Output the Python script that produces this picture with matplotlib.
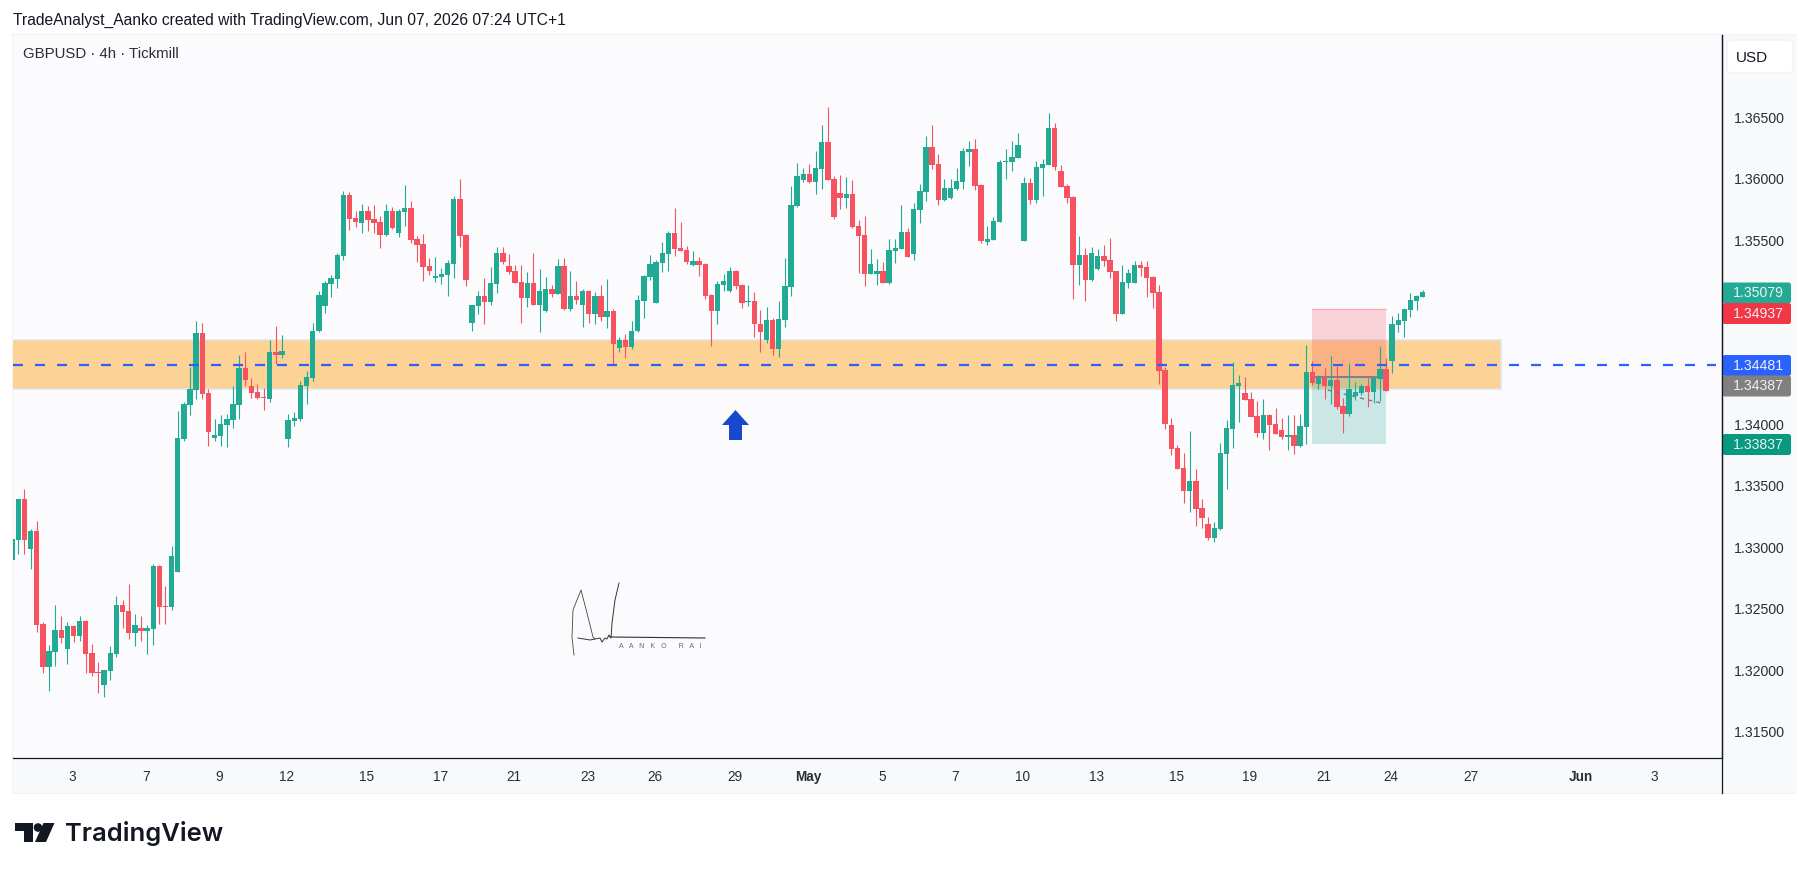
"""
GBPUSD 4h candles with the supply/demand band and a short position box
"""
import matplotlib
matplotlib.use("Agg")
import matplotlib.pyplot as plt
from matplotlib.collections import LineCollection
from matplotlib.patches import Circle, FancyBboxPatch, Polygon, Rectangle
import numpy as np

plt.rcParams['font.family'] = ['Liberation Sans', 'DejaVu Sans']

# prices in 0.00001 units, one entry per 4h bar
opens = [
    132893,133063,133395,132990,133136,132375,132026,132148,132326,132172,
    132358,132277,132399,132140,131986,131880,131994,132132,132528,132480,
    132302,132342,132318,132334,132844,132520,132512,132796,133881,134157,
    134278,134740,134254,133889,133905,133995,134035,134157,134456,134311,
    134262,134221,134205,134586,134562,133881,134027,134043,134311,134375,
    134756,134967,135145,135185,135372,135866,135679,135639,135736,135671,
    135647,135542,135736,135558,135728,135760,135509,135469,135291,135193,
    135202,135218,135307,135833,135542,134829,134967,135048,134999,135145,
    135396,135291,135250,135161,135031,135153,134975,134926,135104,135064,
    135291,134942,135048,134975,135088,134902,135048,134877,134926,134618,
    134683,134626,134756,135007,135202,134991,135315,135388,135558,135436,
    135420,135299,135331,135307,135056,134926,135137,135088,135250,135137,
    134999,135007,134821,134683,134853,134610,134853,135120,135777,135987,
    136036,135971,136076,136295,135995,135882,135841,135874,135615,135542,
    135226,135226,135250,135153,135412,135428,135566,135388,135744,135890,
    136255,136117,135825,135841,135914,135971,136214,136238,135947,135485,
    135501,135647,136133,136133,136165,135493,135963,135825,136084,136109,
    136408,136060,135939,135850,135299,135380,135177,135266,135372,135339,
    135250,134902,135153,135153,135299,135283,135202,135080,134440,133995,
    133808,133646,133460,133541,133322,133193,133079,133152,133760,133962,
    134311,134254,134205,134068,133930,134076,134003,133954,133897,133914,
    133824,133978,134424,134327,134375,134311,134359,134149,134084,134230,
    134254,134311,134262,134367,134448,134513,134805,134845,134934,135007,
    135040]
highs = [
    133071,133395,133476,133152,133217,132391,132204,132528,132439,132391,
    132366,132439,132407,132213,132067,132002,132196,132601,132569,132699,
    132456,132439,132366,132861,132852,132682,133014,134108,134181,134464,
    134845,134829,134286,134043,134076,134084,134311,134562,134586,134375,
    134327,134294,134683,134797,134724,134084,134100,134351,134432,134829,
    135088,135169,135218,135396,135898,135890,135736,135793,135777,135785,
    135696,135793,135769,135752,135947,135817,135534,135550,135355,135364,
    135274,135339,135858,135995,135550,134975,135088,135193,135283,135445,
    135445,135388,135299,135299,135242,135396,135266,135202,135137,135347,
    135355,135250,135169,135104,135096,135080,135137,135185,134942,134715,
    134732,134845,135056,135218,135380,135339,135485,135574,135760,135647,
    135453,135412,135364,135315,135064,135169,135226,135283,135258,135145,
    135137,135080,134934,134959,134869,135007,135355,135939,136125,136084,
    136117,136222,136433,136579,136020,136028,136012,135987,135663,135696,
    135428,135347,135323,135509,135509,135785,135598,135801,135955,136344,
    136433,136198,135995,135995,136084,136246,136303,136319,135955,135615,
    135688,136149,136238,136303,136368,136012,136003,136141,136157,136530,
    136449,136109,135955,135858,135534,135436,135445,135428,135461,135517,
    135250,135299,135266,135331,135331,135331,135210,135137,134464,134051,
    133833,133768,133946,133638,133395,133249,133209,133849,134035,134505,
    134400,134383,134262,134189,134205,134084,134132,134051,134076,134076,
    134084,134643,134513,134400,134456,134554,134473,134213,134497,134343,
    134327,134383,134383,134635,134537,134886,134910,134942,135072,135056,
    135096]
lows = [
    132893,132942,132942,132820,132310,131978,131832,132034,132221,132051,
    132229,132237,131978,131953,131816,131783,131921,132107,132342,132253,
    132196,132237,132132,132204,132375,132375,132488,132796,133865,134076,
    134205,134205,133824,133865,133824,133816,133970,134043,134311,134213,
    134205,134116,134181,134489,134537,133816,133986,134027,134165,134351,
    134748,134910,135040,135112,135339,135582,135607,135558,135574,135558,
    135436,135534,135590,135526,135615,135477,135323,135169,135218,135161,
    135145,135048,135193,135445,135129,134756,134902,134821,134975,135072,
    135307,135226,135153,134829,134959,134975,134748,134918,135040,135064,
    134934,134926,134983,134796,134829,134821,134845,134788,134489,134586,
    134537,134610,134748,134869,135177,134991,135242,135250,135372,135412,
    135307,135291,135210,135023,134634,134821,135088,135080,135104,134950,
    134967,134715,134586,134659,134562,134545,134796,135048,135769,135971,
    135963,135874,135914,135987,135671,135752,135760,135598,135234,135129,
    135226,135137,135153,135145,135315,135428,135364,135339,135639,135817,
    136076,135785,135817,135833,135906,135914,136101,135906,135477,135461,
    135501,135647,135995,136060,136165,135493,135793,135801,135858,136109,
    136068,135931,135801,135023,135137,135007,135169,135258,135291,135193,
    134845,134902,135112,135153,135210,135040,134950,134327,133962,133752,
    133638,133363,133290,133176,133160,133063,133039,133144,133476,133808,
    134019,134197,134059,133897,133881,133792,133922,133881,133792,133760,
    133816,133841,134319,134286,134205,134165,134124,133930,134068,134197,
    134238,134140,134173,134189,134270,134416,134748,134715,134877,134934,
    135040]
closes = [
    133071,133395,133063,133136,132366,132026,132156,132326,132261,132358,
    132277,132399,132132,131978,131978,132002,132140,132528,132472,132302,
    132366,132318,132342,132844,132512,132512,132933,133889,134165,134286,
    134740,134246,133938,133914,134003,134043,134165,134456,134359,134254,
    134213,134213,134586,134562,134594,134035,134051,134319,134383,134764,
    135056,135153,135193,135380,135866,135671,135647,135736,135663,135639,
    135542,135736,135598,135736,135760,135501,135461,135283,135250,135210,
    135226,135315,135833,135534,135177,134975,135048,134999,135153,135396,
    135323,135242,135153,135031,135153,134975,135088,135104,135064,135291,
    134942,135048,135015,135088,134902,135048,134877,134926,134651,134683,
    134626,134764,135015,135210,135307,135323,135396,135558,135428,135412,
    135323,135331,135299,135048,134926,135145,135169,135250,135129,134991,
    135007,134813,134748,134853,134610,134861,135129,135785,136020,136036,
    135971,136084,136295,135987,135688,135841,135874,135607,135534,135226,
    135307,135250,135153,135420,135436,135566,135364,135752,135898,136255,
    136109,135825,135922,135922,135979,136222,136238,135939,135493,135509,
    135655,136133,136141,136174,136271,135963,135825,136093,136117,136408,
    136093,135931,135841,135299,135380,135177,135396,135372,135331,135242,
    134902,135161,135234,135299,135274,135193,135072,134432,134003,133800,
    133638,133460,133541,133314,133241,133079,133160,133768,133970,134319,
    134335,134197,134059,133930,134076,133995,133922,133897,133914,133824,
    133986,134424,134335,134375,134311,134359,134140,134084,134286,134262,
    134311,134262,134375,134448,134270,134813,134853,134942,135015,135048,
    135080]

# date labels and the bar each one sits under
date_labels = ["3", "7", "9", "12", "15", "17", "21", "23", "26", "29", "May",
               "5", "7", "10", "13", "15", "19", "21", "24", "27", "Jun", "3"]
date_bars = [10, 22, 34, 45, 58, 70, 82, 94, 105, 118, 130,
             142, 154, 165, 177, 190, 202, 214, 225, 238, 256, 268]
price_ticks = [1.315, 1.32, 1.325, 1.33, 1.335, 1.34, 1.355, 1.36, 1.365]

zone_low, zone_high = 1.34291, 1.34688
level_price = 1.34481
stop_price, entry_price, target_price = 1.34937, 1.34387, 1.33837
zone_end_bar = 242.8
level_end_bar = 277.8
box_start_bar, box_end_bar = 212, 224

# price scale labels: text, colour, centre height in pixels
badge_texts = ["1.35079", "1.34937", "1.34481", "1.34387", "1.33837"]
badge_colors = ["#22ab94", "#f23645", "#2962ff", "#808080", "#089981"]
badge_rows = [293, 313.5, 365.5, 386, 444.5]

UP = "#22ab94"
DOWN = "#f7525f"
PANE = "#fbfbfe"
SIDE = "#f8f9fb"
LINE = "#131722"
TEXT = "#2a2e39"

W, H = 1810, 872
fig = plt.figure(figsize=(W / 100, H / 100), dpi=100, facecolor="white")


def pixel_axes(zorder):
    "full figure axes measured in pixels, for everything that is not chart data"
    a = fig.add_axes([0, 0, 1, 1], zorder=zorder)
    a.set_xlim(0, W)
    a.set_ylim(H, 0)
    a.axis("off")
    a.patch.set_alpha(0)
    return a


back = pixel_axes(0)
back.add_patch(Rectangle((12, 34), 1785, 760, fc="#f2f3f5", ec="none"))
back.add_patch(Rectangle((13, 35), 1784, 758, fc=SIDE, ec="none"))

# price pane
left, right, top, bottom = 13, 1722, 34.7, 758.3
ax = fig.add_axes([left / W, 1 - bottom / H, (right - left) / W, (bottom - top) / H], zorder=1)
ax.set_facecolor(PANE)
bars = np.arange(len(opens))
ax.set_xlim((left - 12.17) / 6.133, (right - 12.17) / 6.133)
ax.set_ylim(1.31283, 1.37171)

o = np.array(opens) / 1e5
h = np.array(highs) / 1e5
l = np.array(lows) / 1e5
c = np.array(closes) / 1e5
colors = np.where(c >= o, UP, DOWN)

# band, position box, then the candles on top
ax.add_patch(Rectangle((ax.get_xlim()[0] - 1, zone_low), zone_end_bar - ax.get_xlim()[0] + 1,
                       zone_high - zone_low, fc="#fcd295", ec="#e0e3eb", lw=1.1, zorder=1))
ax.add_patch(Rectangle((box_start_bar, entry_price), box_end_bar - box_start_bar,
                       stop_price - entry_price, fc="#f23645", alpha=0.2, ec="none", zorder=2))
ax.add_patch(Rectangle((box_start_bar, target_price), box_end_bar - box_start_bar,
                       entry_price - target_price, fc="#089981", alpha=0.2, ec="none", zorder=2))
ax.plot([box_start_bar, box_end_bar], [stop_price, stop_price], color="#f23645", alpha=0.25, lw=1, zorder=2)
ax.plot([box_start_bar, box_end_bar], [entry_price, entry_price], color="#787b86", lw=1.3, zorder=2)
ax.plot([214.5, 223.5], [1.34280, 1.34170], color="#787b86", lw=1, dashes=(3, 3), zorder=4)

wicks = [[(x, lo), (x, hi)] for x, lo, hi in zip(bars, l, h)]
ax.add_collection(LineCollection(wicks, colors=colors, linewidths=0.8, zorder=3))
ax.bar(bars, np.abs(c - o), bottom=np.minimum(o, c), width=0.88, color=colors, linewidth=0, zorder=3)

ax.plot([ax.get_xlim()[0], level_end_bar], [level_price, level_price], color="#2962ff",
        lw=1.6, dashes=(4.5, 5.4), zorder=5)

for side in ["top", "left"]:
    ax.spines[side].set_visible(False)
ax.spines["bottom"].set_color(LINE)
ax.spines["right"].set_color(LINE)
ax.spines["bottom"].set_linewidth(0.9)
ax.spines["right"].set_linewidth(0.9)

ax.yaxis.tick_right()
ax.set_yticks(price_ticks)
ax.set_yticklabels(["%.5f" % p for p in price_ticks])
ax.tick_params(axis="y", length=0, pad=8.7, labelsize=10.2, labelcolor=TEXT)
ax.set_xticks([b - 0.2 for b in date_bars])
ax.set_xticklabels(date_labels)
ax.tick_params(axis="x", length=0, pad=8.2, labelsize=9.8, labelcolor=TEXT)
for tick, name in zip(ax.get_xticklabels(), date_labels):
    if name in ("May", "Jun"):
        tick.set_fontweight("bold")

front = pixel_axes(2)
# axis lines run on to the bottom of the time scale
front.plot([1722, 1722], [34.7, 793], color=LINE, lw=0.9)

front.text(13, 20, "TradeAnalyst_Aanko created with TradingView.com, Jun 07, 2026 07:24 UTC+1",
           fontsize=11.25, color=LINE, va="center", ha="left")
front.text(23, 54.5, "GBPUSD · 4h · Tickmill", fontsize=10.8, color=TEXT, va="center", ha="left")

front.add_patch(FancyBboxPatch((1727, 40), 66, 33, boxstyle="round,pad=0,rounding_size=5",
                               fc="white", ec="#f0f3fa", lw=1))
front.text(1752, 57.5, "USD", fontsize=11, color=LINE, va="center", ha="center")

for text, color, row in zip(badge_texts, badge_colors, badge_rows):
    front.add_patch(FancyBboxPatch((1722.5, row - 10.5), 68.5, 21,
                                   boxstyle="round,pad=0,rounding_size=2.5", fc=color, ec="none"))
    front.text(1758, row, text, fontsize=10.2, color="#f0f0f0", va="center", ha="center")

# hand drawn arrow under the band
front.add_patch(Polygon([(735.5, 410), (749, 425), (742, 425), (742, 440), (729, 440),
                         (729, 425), (722, 425)], fc="#1848cc", ec="none"))

# signature
sig_a_x = [574, 572, 573, 581, 587, 593, 595]
sig_a_y = [655, 637, 610, 590, 613, 637, 639]
sig_b_x = [578, 590, 600, 602, 605, 607, 609, 611, 612, 615, 619]
sig_b_y = [638, 640, 638, 642, 638, 639, 635, 638, 623, 600, 583]
front.plot(sig_a_x, sig_a_y, color="#444444", lw=0.6)
front.plot(sig_b_x, sig_b_y, color="#333333", lw=0.7)
front.plot([610, 705], [637, 638], color="#333333", lw=0.8)
front.text(660, 646, "A   A   N   K   O      R   A   I", fontsize=5, color="#666666", va="center", ha="center")

# TradingView logo
logo = "#131722"
front.add_patch(Polygon([(15, 823), (33, 823), (33, 842), (23.5, 842), (23.5, 831), (15, 831)], fc=logo, ec="none"))
front.add_patch(Circle((38, 827.5), 4.3, fc=logo, ec="none"))
front.add_patch(Polygon([(43.5, 823), (54.5, 823), (46, 842), (35, 842)], fc=logo, ec="none"))
front.text(64.5, 833, "TradingView", fontsize=18.4, fontfamily="Inter", fontweight="semibold",
           color=logo, va="center", ha="left")

fig.savefig("out.png", dpi=100, facecolor="white")
